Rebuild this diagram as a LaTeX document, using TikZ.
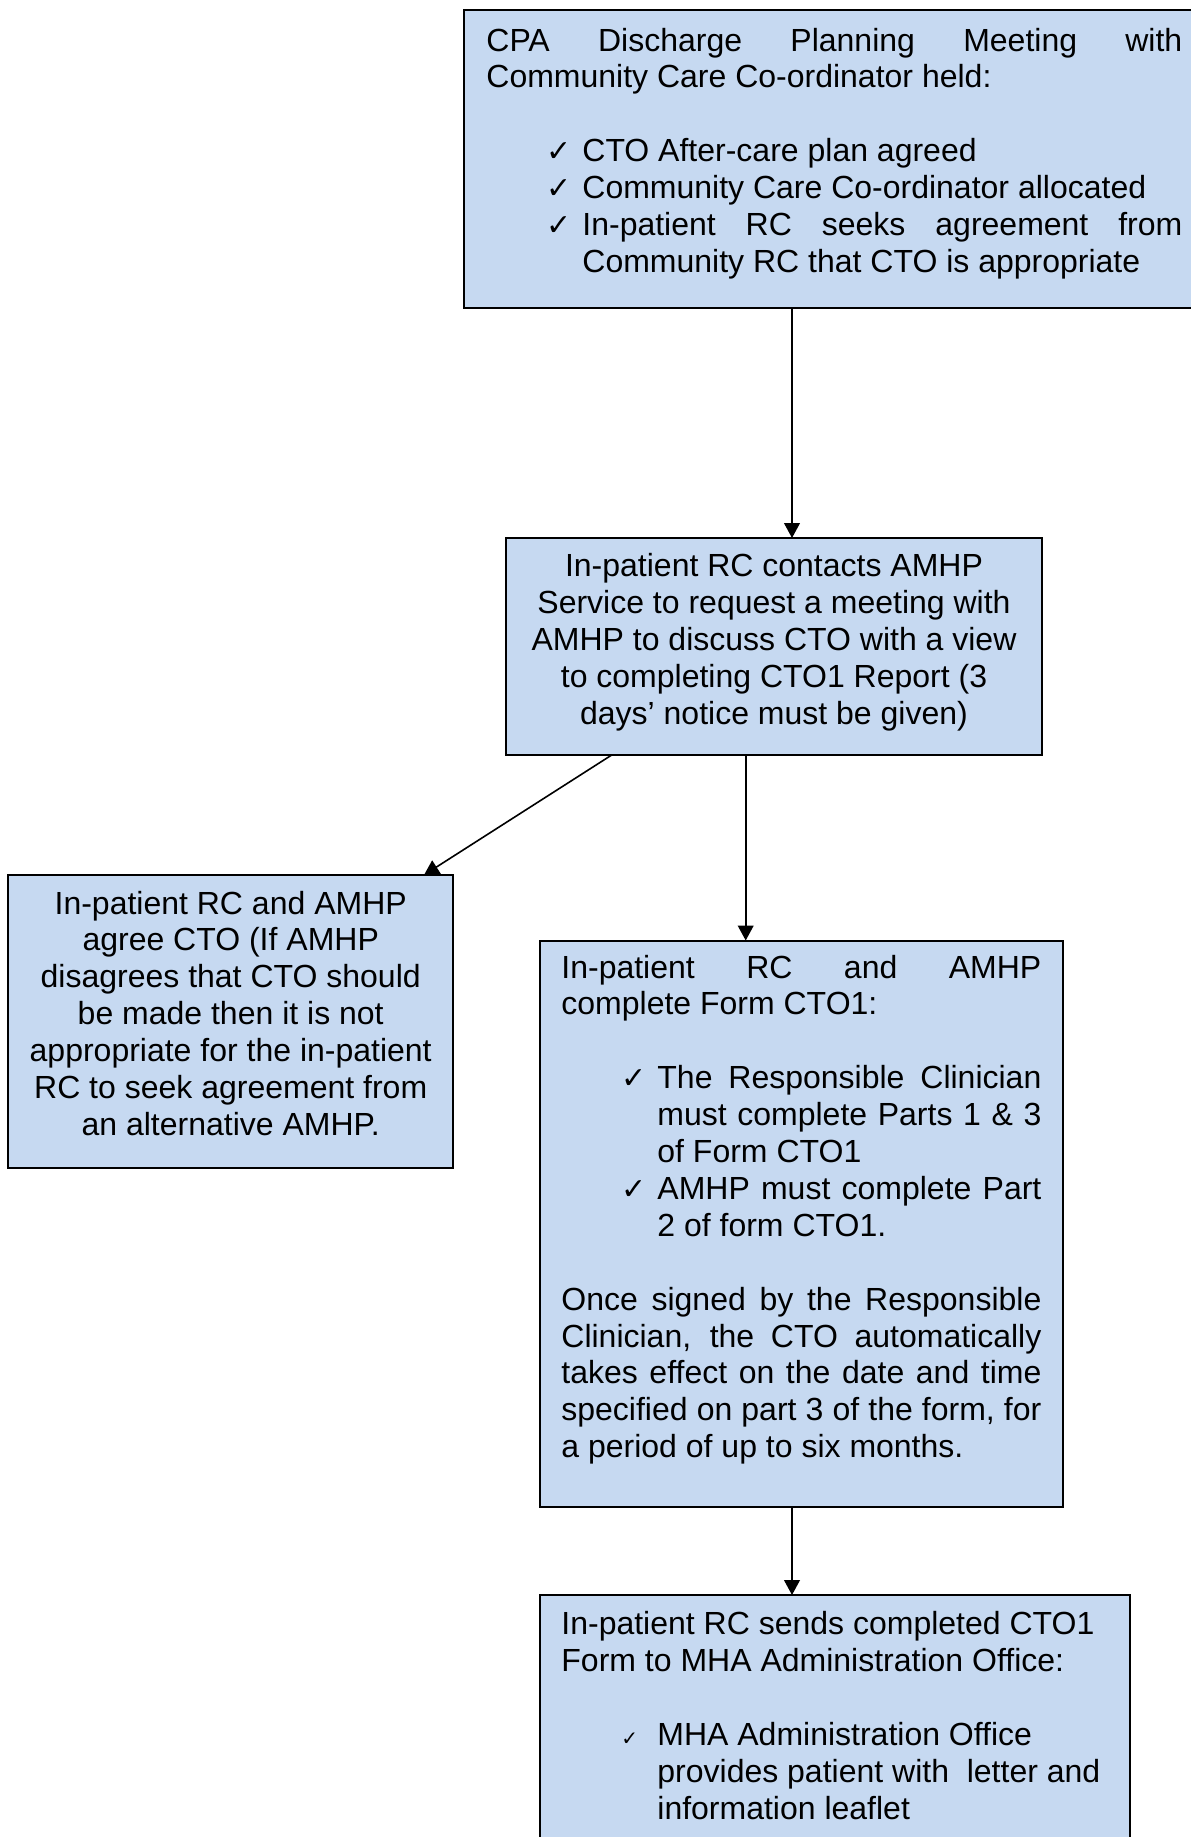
\documentclass[tikz,border=0pt]{standalone}
\usepackage{fontspec}
\setmainfont{Liberation Sans}
\newfontfamily\dejavu{DejaVu Sans}
\usetikzlibrary{arrows.meta}
\definecolor{boxblue}{HTML}{C6D9F1}
\newlength{\tw}
\newcommand{\fixsp}{\spaceskip=0pt\xspaceskip=0pt\relax}
\newcommand{\rigidsp}{\spaceskip=\fontdimen2\font\xspaceskip=\fontdimen2\font\relax}
\newcommand{\ckbig}{{\dejavu\fontsize{15pt}{15pt}\selectfont ✓}}
\newcommand{\cksmall}{{\dejavu\fontsize{10pt}{10pt}\selectfont ✓}}
\newcommand{\jl}[1]{\makebox[\tw][s]{\fixsp #1}}
\newcommand{\bl}[3][l]{\hspace*{30pt}\makebox[18pt][l]{#2}\makebox[\dimexpr\tw-48pt\relax][#1]{\fixsp #3}}
\newcommand{\cl}[2][l]{\hspace*{48pt}\makebox[\dimexpr\tw-48pt\relax][#1]{\fixsp #2}}
\begin{document}
\begin{tikzpicture}[x=0.5pt,y=-0.5pt,
  box/.style={draw=black, line width=1pt, fill=boxblue, inner sep=0pt, outer sep=0pt, anchor=north west},
  txt/.style={inner sep=0pt, font=\fontsize{16pt}{18.45pt}\selectfont},
  arr/.style={line width=0.8pt, -{Triangle[length=7.4pt,width=7.8pt]}}]
\useasboundingbox (0,0) rectangle (1190,1837);
\fill[white] (0,0) rectangle (1190,1837);
% boxes
\node[box, minimum width=370.5pt, minimum height=149.25pt] (b1) at (464,9.5) {};
\node[box, minimum width=268pt, minimum height=108.5pt] (b2) at (506,538) {};
\node[box, minimum width=222.35pt, minimum height=146.5pt] (b3) at (8.3,875) {};
\node[box, minimum width=261.5pt, minimum height=283.25pt] (b4) at (540,940.5) {};
\node[box, minimum width=295pt, minimum height=132.5pt] (b5) at (540,1595) {};
% texts
\node[txt, text width=348pt, align=left, anchor=base west] (t1) at (486,51) {%
\rigidsp\setlength{\tw}{348pt}%
\jl{CPA Discharge Planning Meeting with}\\
Community Care Co-ordinator held:\\
\mbox{}\\
\bl{\ckbig}{CTO After-care plan agreed}\\
\bl{\ckbig}{Community Care Co-ordinator allocated}\\
\bl[s]{\ckbig}{In-patient RC seeks agreement from}\\
\cl{Community RC that CTO is appropriate}};
\node[txt, text width=260pt, align=center, anchor=base] (t2) at (774,576.5) {%
\rigidsp
In-patient RC contacts AMHP\\
Service to request a meeting with\\
AMHP to discuss CTO with a view\\
to completing CTO1 Report (3\\
days’ notice must be given)};
\node[txt, text width=215pt, align=center, anchor=base] (t3) at (230.7,914) {%
\rigidsp
In-patient RC and AMHP\\
agree CTO (If AMHP\\
disagrees that CTO should\\
be made then it is not\\
appropriate for the in-patient\\
RC to seek agreement from\\
an alternative AMHP.};
\node[txt, text width=240pt, align=left, anchor=base west] (t4) at (561,978) {%
\rigidsp\setlength{\tw}{240pt}%
\jl{In-patient RC and AMHP}\\
complete Form CTO1:\\
\mbox{}\\
\bl[s]{\ckbig}{The Responsible Clinician}\\
\cl[s]{must complete Parts 1 \& 3}\\
\cl{of Form CTO1}\\
\bl[s]{\ckbig}{AMHP must complete Part}\\
\cl{2 of form CTO1.}\\
\mbox{}\\
\jl{Once signed by the Responsible}\\
\jl{Clinician, the CTO automatically}\\
\jl{takes effect on the date and time}\\
\jl{specified on part 3 of the form, for}\\
a period of up to six months.};
\node[txt, text width=280pt, align=left, anchor=base west] (t5) at (561,1634.5) {%
\rigidsp\setlength{\tw}{280pt}%
In-patient RC sends completed CTO1\\
Form to MHA Administration Office:\\
\mbox{}\\
\bl{\cksmall}{MHA Administration Office}\\
\cl{provides patient with~ letter and}\\
\cl{information leaflet}};
% connectors
\coordinate (c1) at ([xshift=164pt]b1.south west);
\coordinate (c2) at ([xshift=52.85pt]b2.south west);
\coordinate (c3) at ([xshift=-14.5pt]b3.north east);
\coordinate (c4) at ([xshift=119.85pt]b2.south west);
\coordinate (c5) at ([xshift=126pt]b4.south west);
\draw[arr] (c1) -- (c1 |- b2.north);
\draw[arr] (c2) -- (c3);
\draw[arr] (c4) -- (c4 |- b4.north);
\draw[arr] (c5) -- (c5 |- b5.north);
\end{tikzpicture}
\end{document}
